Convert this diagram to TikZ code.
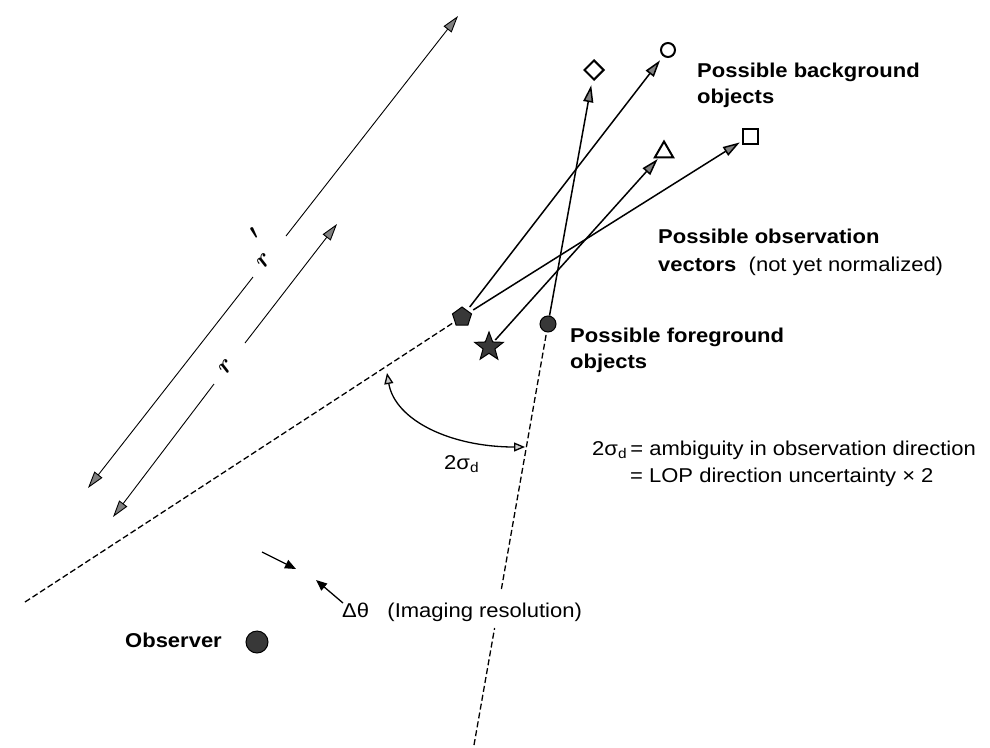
\documentclass[tikz,border=0pt]{standalone}
\usepackage{fontspec}
\setmainfont{Liberation Sans}[FakeStretch=1.1]
\usetikzlibrary{arrows.meta,shapes.geometric}
\begin{document}
\begin{tikzpicture}[x=1pt,y=-1pt,
  txt/.style={anchor=base west,inner sep=0pt,font=\fontsize{20}{24}\selectfont},
  btxt/.style={anchor=base west,inner sep=0pt,font=\fontsize{20}{24}\selectfont\bfseries},
  gtip/.tip={Triangle[length=17pt,width=10pt,fill=gray]},
  vec/.style={line width=1.5pt,-gtip},
  rhalf/.style={line width=0.9pt,-gtip},
  los/.style={line width=1.3pt,dash pattern=on 6pt off 3pt},
  bgobj/.style={draw,line width=2pt,inner sep=0pt,fill=white},
  fgobj/.style={draw,line width=1pt,inner sep=0pt,fill=black!78},
  atip/.tip={Triangle[length=11pt,width=9pt,fill=gray!40]},
  angarr/.style={line width=1.3pt,atip-atip},
  dth/.style={line width=1.3pt,-{Triangle[length=11pt,width=9pt]}},
  rlab/.style={inner sep=0pt,rotate=52,font=\fontsize{30}{32}\selectfont\boldmath}
]
\path[use as bounding box] (0,0) rectangle (990,747);

% objects
\node[bgobj,diamond,minimum width=20pt,minimum height=20pt] (dia) at (594,70) {};
\node[bgobj,circle,minimum size=14pt] (cobj) at (668,50) {};
\node[bgobj,rectangle,minimum size=15pt] (sq) at (750,136) {};
\node[bgobj,regular polygon,regular polygon sides=3,minimum size=21pt] (tri) at (664,152) {};
\node[fgobj,regular polygon,regular polygon sides=5,minimum size=20pt] (pent) at (462,317) {};
\node[fgobj,star,star points=5,star point ratio=2.4,minimum size=30pt] (star) at (489,347) {};
\node[fgobj,circle,minimum size=16pt] (fgc) at (548,324) {};
\node[fgobj,circle,minimum size=22pt] (obs) at (257,642) {};

% lines of position (dashed)
\coordinate (l1) at (25,602);
\coordinate (l2b) at (474,745);
\coordinate (l2g1) at (494.6,628);
\coordinate (l2g2) at (501.4,589);
\draw[los] (l1) -- (pent);
\draw[los] (l2b) -- (l2g1);
\draw[los] (l2g2) -- (fgc);

% observation vectors
\draw[vec,shorten >=6pt] (fgc) -- (dia);
\draw[vec,shorten <=4pt,shorten >=5pt] (pent) -- (cobj);
\draw[vec,shorten <=4pt,shorten >=2pt] (pent) -- (sq);
\draw[vec,shorten <=2pt,shorten >=1pt] (star) -- (tri);

% r' and r
\coordinate (rpa) at (88,488);
\coordinate (rpb) at (458,16);
\coordinate (rpg1) at (253,277);
\coordinate (rpg2) at (286,236);
\draw[rhalf] (rpg1) -- (rpa);
\draw[rhalf] (rpg2) -- (rpb);
\node[rlab] (rplab) at (264,261) {$r$};
\node[rlab] (rpprime) at (258,236) {$'$};

\coordinate (ra) at (113,517);
\coordinate (rb) at (337,224);
\coordinate (rg1) at (214,384);
\coordinate (rg2) at (245,343);
\draw[rhalf] (rg1) -- (ra);
\draw[rhalf] (rg2) -- (rb);
\node[rlab] (rlab) at (226,367) {$r$};

% angle arc
\coordinate (arcA) at (387,373);
\coordinate (arcB) at (525,447);
\draw[angarr] (arcA) .. controls (395,420) and (450,447) .. (arcB);
\node[txt] (siglab) at (444,469) {2σ\textsubscript{d}};

% imaging resolution
\coordinate (d1a) at (262,552);
\coordinate (d1b) at (296,569);
\coordinate (d2a) at (343,603);
\coordinate (d2b) at (316,580);
\draw[dth] (d1a) -- (d1b);
\draw[dth] (d2a) -- (d2b);
\node[txt] (res) at (342,617) {Δθ\ \ \ (Imaging resolution)};

% labels
\node[btxt] (bg1) at (697,77) {Possible background};
\node[btxt] (bg2) at (697,103) {objects};
\node[btxt] (ov1) at (658,243) {Possible observation};
\node[txt] (ov2) at (658,271) {\textbf{vectors}\ \ (not yet normalized)};
\node[btxt] (fg1) at (570,342) {Possible foreground};
\node[btxt] (fg2) at (570,368) {objects};
\node[txt] (amb1) at (592,455) {2σ\textsubscript{d}\,= ambiguity in observation direction};
\node[txt] (amb2) at (630,482) {= LOP direction uncertainty × 2};
\node[btxt] (obslab) at (125,647) {Observer};
\end{tikzpicture}
\end{document}
